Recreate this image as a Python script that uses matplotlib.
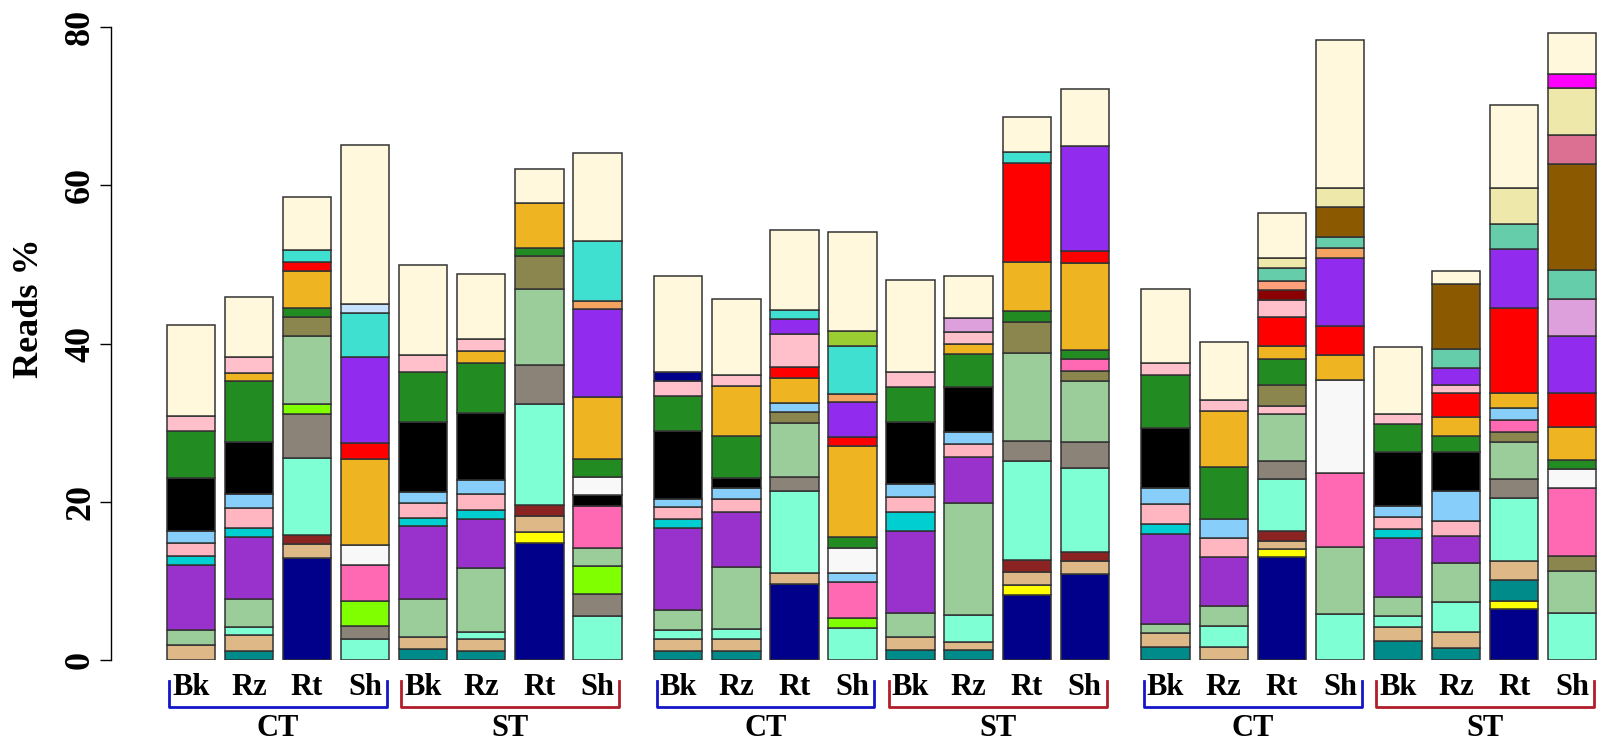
import matplotlib
matplotlib.use("Agg")
import matplotlib.pyplot as plt

# treatment / tissue labels
groups = ["CT", "ST", "CT", "ST", "CT", "ST"]
tissues = ["Bk", "Rz", "Rt", "Sh"]

# reads % per bar, bottom to top (taxon, value)
stacks = [
    [("tan", 1.9), ("dsg", 1.9), ("orchid", 8.2), ("dturq", 1.1), ("lpink", 1.7), ("lsky", 1.5),
     ("black", 6.7), ("green", 5.9), ("pink", 1.9), ("cornsilk", 11.6)],
    [("teal", 1.2), ("tan", 1.9), ("aqua", 1.1), ("dsg", 3.5), ("orchid", 7.9), ("dturq", 1.1),
     ("lpink", 2.5), ("lsky", 1.8), ("black", 6.5), ("green", 7.8), ("gold", 1.0), ("pink", 2.0),
     ("cornsilk", 7.6)],
    [("navy", 12.9), ("tan", 1.7), ("brown4", 1.2), ("aqua", 9.7), ("gray", 5.6), ("chart", 1.3),
     ("dsg", 8.6), ("khaki4", 2.3), ("green", 1.2), ("gold", 4.6), ("red", 1.2), ("turq", 1.5),
     ("cornsilk", 6.7)],
    [("aqua", 2.6), ("gray", 1.7), ("chart", 3.2), ("hotpink", 4.5), ("white", 2.5), ("gold", 10.9),
     ("red", 2.0), ("purple", 10.9), ("turq", 5.6), ("lblue", 1.1), ("cornsilk", 20.1)],
    [("teal", 1.4), ("tan", 1.5), ("dsg", 4.8), ("orchid", 9.2), ("dturq", 1.1), ("lpink", 1.9),
     ("lsky", 1.3), ("black", 8.9), ("green", 6.3), ("pink", 2.1), ("cornsilk", 11.4)],
    [("teal", 1.2), ("tan", 1.4), ("aqua", 1.0), ("dsg", 8.0), ("orchid", 6.2), ("dturq", 1.2),
     ("lpink", 2.0), ("lsky", 1.7), ("black", 8.5), ("green", 6.3), ("gold", 1.5), ("pink", 1.6),
     ("cornsilk", 8.2)],
    [("navy", 14.8), ("yellow", 1.4), ("tan", 2.0), ("brown4", 1.4), ("aqua", 12.8), ("gray", 4.9),
     ("dsg", 9.6), ("khaki4", 4.1), ("green", 1.1), ("gold", 5.7), ("cornsilk", 4.3)],
    [("aqua", 5.6), ("gray", 2.8), ("chart", 3.5), ("dsg", 2.3), ("hotpink", 5.3), ("black", 1.3),
     ("white", 2.3), ("green", 2.3), ("gold", 7.8), ("purple", 11.2), ("sandy", 1.0), ("turq", 7.5),
     ("cornsilk", 11.2)],
    [("teal", 1.2), ("tan", 1.4), ("aqua", 1.2), ("dsg", 2.5), ("orchid", 10.4), ("dturq", 1.1),
     ("lpink", 1.5), ("lsky", 1.1), ("black", 8.6), ("green", 4.4), ("pink", 1.9), ("navy", 1.1),
     ("cornsilk", 12.1)],
    [("teal", 1.2), ("tan", 1.4), ("aqua", 1.3), ("dsg", 7.9), ("orchid", 6.9), ("lpink", 1.7),
     ("lsky", 1.3), ("black", 1.3), ("green", 5.3), ("gold", 6.3), ("pink", 1.4), ("cornsilk", 9.6)],
    [("navy", 9.6), ("tan", 1.4), ("aqua", 10.4), ("gray", 1.7), ("dsg", 6.9), ("khaki4", 1.3),
     ("lsky", 1.2), ("gold", 3.1), ("red", 1.4), ("pink", 4.2), ("purple", 1.9), ("turq", 1.1),
     ("cornsilk", 10.2)],
    [("aqua", 4.1), ("chart", 1.2), ("hotpink", 4.6), ("lsky", 1.1), ("white", 3.2), ("green", 1.4),
     ("gold", 11.4), ("red", 1.2), ("purple", 4.4), ("sandy", 1.0), ("turq", 6.1), ("ygreen", 1.9),
     ("cornsilk", 12.5)],
    [("teal", 1.3), ("tan", 1.6), ("dsg", 3.1), ("orchid", 10.3), ("dturq", 2.4), ("lpink", 1.9),
     ("lsky", 1.6), ("black", 7.9), ("green", 4.4), ("pink", 1.9), ("cornsilk", 11.6)],
    [("teal", 1.3), ("tan", 1.0), ("aqua", 3.4), ("dsg", 14.2), ("orchid", 5.7), ("lpink", 1.7),
     ("lsky", 1.5), ("black", 5.7), ("green", 4.2), ("gold", 1.2), ("pink", 1.5), ("plum", 1.8),
     ("cornsilk", 5.3)],
    [("navy", 8.2), ("yellow", 1.3), ("tan", 1.6), ("brown4", 1.5), ("aqua", 12.6), ("gray", 2.5),
     ("dsg", 11.1), ("khaki4", 3.9), ("green", 1.4), ("gold", 6.2), ("red", 12.5), ("turq", 1.4),
     ("cornsilk", 4.4)],
    [("navy", 10.9), ("tan", 1.6), ("brown4", 1.2), ("aqua", 10.6), ("gray", 3.3), ("dsg", 7.6),
     ("khaki4", 1.3), ("hotpink", 1.5), ("green", 1.2), ("gold", 11.0), ("red", 1.5), ("purple", 13.2),
     ("cornsilk", 7.3)],
    [("teal", 1.7), ("tan", 1.7), ("dsg", 1.2), ("orchid", 11.3), ("dturq", 1.3), ("lpink", 2.5),
     ("lsky", 2.0), ("black", 7.6), ("green", 6.7), ("pink", 1.5), ("cornsilk", 9.4)],
    [("tan", 1.7), ("aqua", 2.6), ("dsg", 2.5), ("orchid", 6.2), ("lpink", 2.4), ("lsky", 2.4),
     ("green", 6.6), ("gold", 7.1), ("pink", 1.4), ("cornsilk", 7.3)],
    [("navy", 13.0), ("yellow", 1.0), ("tan", 1.1), ("brown4", 1.2), ("aqua", 6.6), ("gray", 2.2),
     ("dsg", 6.0), ("pink", 1.0), ("khaki4", 2.7), ("green", 3.2), ("gold", 1.7), ("red", 3.7),
     ("pink", 2.1), ("darkred", 1.2), ("salmon", 1.2), ("maqua", 1.7), ("pgold", 1.2),
     ("cornsilk", 5.7)],
    [("aqua", 5.8), ("dsg", 8.5), ("hotpink", 9.3), ("white", 11.8), ("gold", 3.2), ("red", 3.6),
     ("purple", 8.6), ("sandy", 1.3), ("maqua", 1.3), ("brown", 3.8), ("pgold", 2.4),
     ("cornsilk", 18.7)],
    [("teal", 2.4), ("tan", 1.8), ("aqua", 1.4), ("dsg", 2.3), ("orchid", 7.5), ("dturq", 1.1),
     ("lpink", 1.6), ("lsky", 1.3), ("black", 6.9), ("green", 3.5), ("pink", 1.3), ("cornsilk", 8.5)],
    [("teal", 1.5), ("tan", 2.0), ("aqua", 3.8), ("dsg", 5.0), ("orchid", 3.4), ("lpink", 1.9),
     ("lsky", 3.8), ("black", 4.9), ("green", 2.0), ("gold", 2.4), ("red", 3.0), ("pink", 1.0),
     ("purple", 2.2), ("maqua", 2.4), ("brown", 8.2), ("cornsilk", 1.7)],
    [("navy", 6.4), ("yellow", 1.0), ("teal", 2.7), ("tan", 2.4), ("aqua", 8.0), ("gray", 2.4),
     ("dsg", 4.6), ("khaki4", 1.3), ("hotpink", 1.5), ("lsky", 1.6), ("gold", 1.9), ("red", 10.7),
     ("purple", 7.4), ("maqua", 3.2), ("pgold", 4.5), ("cornsilk", 10.5)],
    [("aqua", 5.9), ("dsg", 5.3), ("khaki4", 2.0), ("hotpink", 8.5), ("white", 2.5), ("green", 1.1),
     ("gold", 4.1), ("red", 4.4), ("purple", 7.2), ("plum", 4.6), ("maqua", 3.7), ("brown", 13.4),
     ("pvred", 3.7), ("pgold", 5.9), ("magenta", 1.8), ("cornsilk", 5.2)],
]

palette = {
    "teal": "#008B8B", "tan": "#DEB887", "yellow": "#FFFF00", "navy": "#00008B",
    "brown4": "#8B2323", "aqua": "#7FFFD4", "gray": "#8B8378", "dsg": "#9BCD9B",
    "chart": "#7FFF00", "hotpink": "#FF69B4", "white": "#F8F8F8", "black": "#000000",
    "green": "#228B22", "gold": "#EEB422", "red": "#FF0000", "purple": "#912CEE",
    "orchid": "#9932CC", "turq": "#40E0D0", "sandy": "#F4A460", "lblue": "#C6E2FF",
    "lsky": "#87CEFA", "lpink": "#FFB6C1", "dturq": "#00CED1", "pink": "#FFC0CB",
    "cornsilk": "#FFF8DC", "khaki4": "#8B864E", "ygreen": "#9ACD32", "plum": "#DDA0DD",
    "pgold": "#EEE8AA", "brown": "#8B5A00", "maqua": "#66CDAA", "salmon": "#FFA07A",
    "darkred": "#8B0000", "pvred": "#DB7093", "magenta": "#FF00FF",
}

serif = "Liberation Serif"
W, H = 1605, 746
fig = plt.figure(figsize=(W / 100, H / 100), dpi=100)
ax = fig.add_axes([111 / W, 1 - 660 / H, (W - 111) / W, 633 / H])

# bar left edges: step 1.2 within a block of 8, blocks 10.07 apart
lefts = []
for i in range(len(stacks)):
    lefts.append((i // 8) * 10.07 + (i % 8) * 1.2)

for x, stack in zip(lefts, stacks):
    b = 0
    for taxon, v in stack:
        ax.bar(x, v, width=1, bottom=b, align="edge", color=palette[taxon],
               edgecolor="#333333", linewidth=1.1)
        b += v

ax.set_xlim((111 - 166.7) / 48.4, (W - 166.7) / 48.4)
ax.set_ylim(0, 80)
for s in ["top", "right", "bottom"]:
    ax.spines[s].set_visible(False)
ax.spines["left"].set_bounds(0, 80)
ax.spines["left"].set_linewidth(1.0)
ax.set_xticks([])
ax.set_yticks([0, 20, 40, 60, 80])
ax.tick_params(axis="y", length=8, width=1, pad=2)
for lab in ax.get_yticklabels():
    lab.set_rotation(90)
    lab.set_va("center")
    lab.set_fontsize(26)
    lab.set_fontweight("bold")
    lab.set_family(serif)

fig.text(29 / W, 1 - 308 / H, "Reads %", rotation=90, ha="center", va="center",
         fontsize=26, fontweight="bold", family=serif)

# tissue labels, brackets and treatment labels
bracket_colors = {"CT": "#1515C8", "ST": "#B01E2A"}
for g, grp in enumerate(groups):
    first = lefts[g * 4]
    last = lefts[g * 4 + 3] + 1
    for k, t in enumerate(tissues):
        ax.text(lefts[g * 4 + k] + 0.5, -3.5, t, ha="center", va="center",
                fontsize=22, fontweight="bold", family=serif, clip_on=False)
    c = bracket_colors[grp]
    ax.plot([first + 0.05, first + 0.05, last - 0.05, last - 0.05], [-2.6, -5.9, -5.9, -2.6],
            color=c, lw=2, clip_on=False, solid_joinstyle="round")
    ax.text((first + last) / 2, -8.6, grp, ha="center", va="center",
            fontsize=22, fontweight="bold", family=serif, clip_on=False)

fig.savefig("out.png", dpi=100)
